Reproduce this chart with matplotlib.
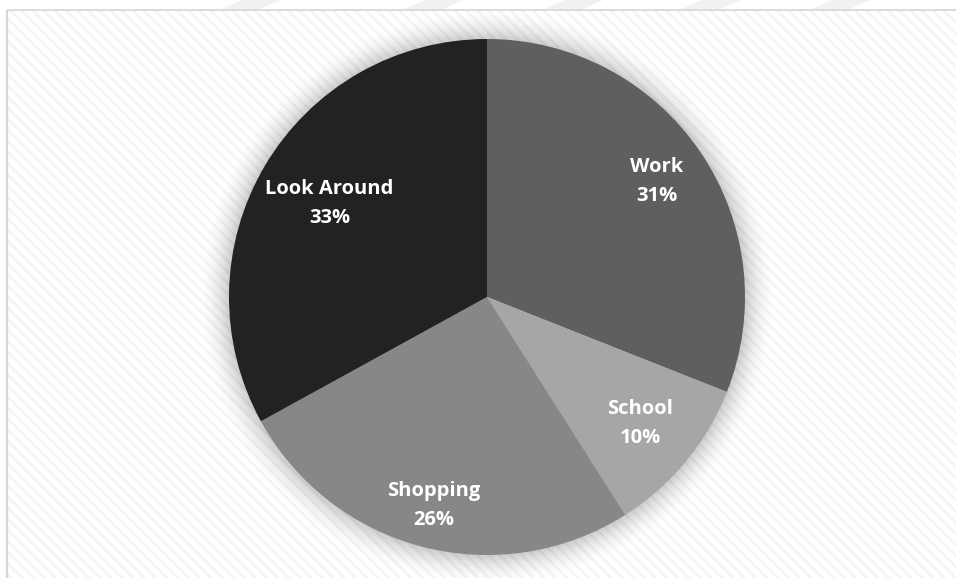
import matplotlib.pyplot as plt
import numpy as np
from matplotlib.patches import Rectangle, Polygon

# Trip purposes, share of trips (%)
categories = ["Work", "School", "Shopping", "Look Around"]
shares = [31, 10, 26, 33]
colors = ["#5f5f5f", "#a6a6a6", "#878787", "#222222"]
# radial position of each label, as a fraction of the radius
label_r = [0.795, 0.77, 0.835, 0.71]

W, H = 956, 578
cx, cy, R = 487, 281, 258

plt.rcParams["hatch.linewidth"] = 1.8

fig = plt.figure(figsize=(W / 100, H / 100), dpi=100)
ax = fig.add_axes([0, 0, 1, 1])

# faint band shapes along the top margin
for x0 in [222, 405, 545, 682, 812]:
    ax.add_patch(Polygon([(x0, 569), (x0 + 38, 569), (x0 + 58, 578), (x0 + 20, 578)],
                         closed=True, facecolor="#f1f1f1", edgecolor="none", zorder=1))

# striped chart area with a thin frame
ax.add_patch(Rectangle((7, 0), W - 7, 568, facecolor="white", edgecolor="#f4f4f4",
                       hatch="\\\\\\", linewidth=0, zorder=1))
ax.plot([7, 7], [0, 568], color="#d6d6d6", lw=1.6, zorder=2, solid_capstyle="butt")
ax.plot([7, W], [568, 568], color="#d6d6d6", lw=1.2, zorder=2, solid_capstyle="butt")

# soft glow around the pie
xs = np.arange(W) + 0.5
ys = np.arange(H) + 0.5
X, Y = np.meshgrid(xs, ys)
d = np.hypot(X - cx, Y - cy)
glow = np.clip(1 - (d - R) / 32.0, 0, 1) ** 2 * 0.2
rgba = np.zeros((H, W, 4))
rgba[..., 3] = glow
ax.imshow(rgba, extent=[0, W, 0, H], origin="lower", zorder=3, interpolation="bilinear")

ax.pie(shares, colors=colors, startangle=90, counterclock=False,
       center=(cx, cy), radius=R, frame=True,
       wedgeprops=dict(linewidth=0, zorder=4))

cum = np.cumsum(shares)
for name, v, c, f in zip(categories, shares, cum, label_r):
    ang = np.deg2rad(90 - 360.0 * (c - v / 2) / 100)
    ax.text(cx + f * R * np.cos(ang), cy + f * R * np.sin(ang), f"{name}\n{v}%",
            ha="center", va="center", color="white", fontsize=14.5,
            fontweight="bold", family="Open Sans", linespacing=1.6, zorder=5)

ax.set_xlim(0, W)
ax.set_ylim(0, H)
ax.axis("off")

fig.savefig("out.png", dpi=100)
